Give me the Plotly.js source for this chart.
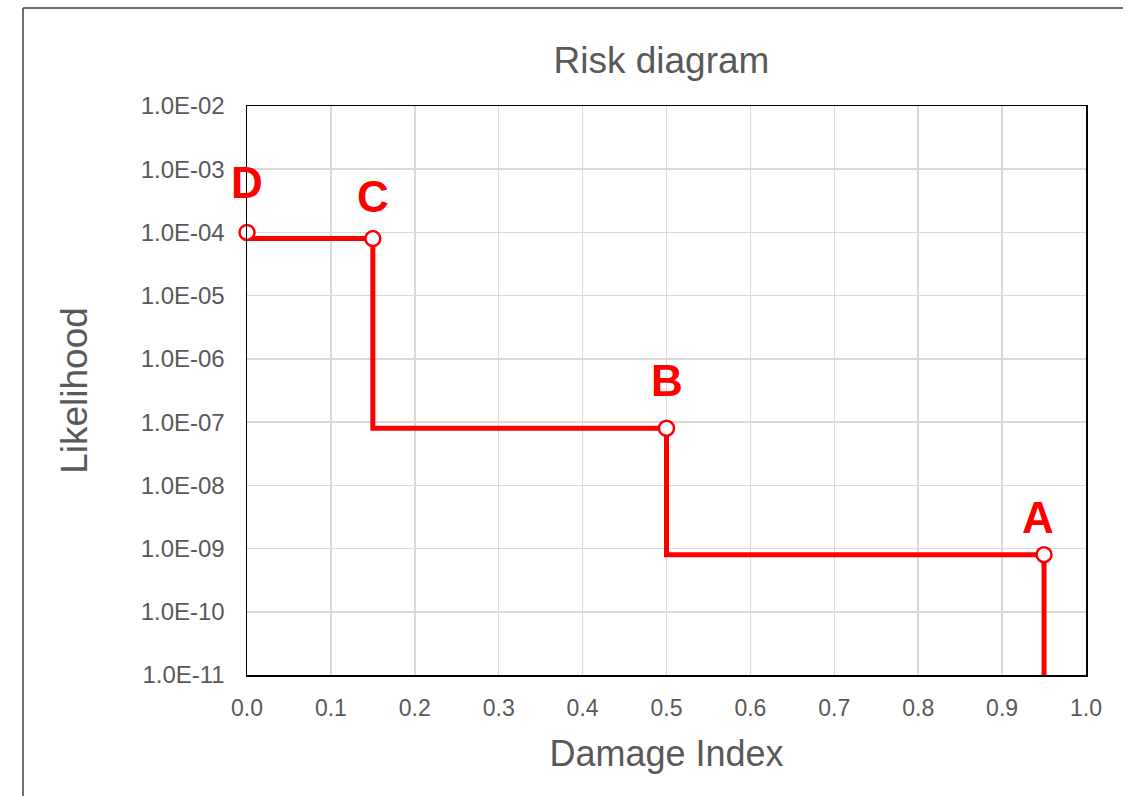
<!DOCTYPE html>
<html>
<head>
<meta charset="utf-8">
<script src="https://cdn.plot.ly/plotly-3.0.1.min.js"></script>
<style>
  html, body { margin: 0; padding: 0; background: #fff; }
  #chart { width: 1125px; height: 796px; }
</style>
</head>
<body>
<div id="chart"></div>
<script>
// ---- data ----
const stepDamage = [0, 0.15, 0.5, 0.95];
const stepLikelihood = [8e-5, 8e-8, 8e-10, 1e-11];

const pointLabels = ['A', 'B', 'C', 'D'];
const pointDamage = [0.95, 0.5, 0.15, 0];
const pointLikelihood = [8e-10, 8e-8, 8e-5, 1e-4];

const yTickValues = [1e-11, 1e-10, 1e-9, 1e-8, 1e-7, 1e-6, 1e-5, 1e-4, 1e-3, 1e-2];
const yTickLabels = ['1.0E-11', '1.0E-10', '1.0E-09', '1.0E-08', '1.0E-07',
                     '1.0E-06', '1.0E-05', '1.0E-04', '1.0E-03', '1.0E-02'];

// ---- styling ----
const RED = '#ff0000';
const TXT = '#595959';
const FONT = 'Liberation Sans, Arial, sans-serif';
// label placement tweaks (px), per label, A..D
const labelShiftY = [37, 48, 42, 50];
const labelShiftX = [-6, 0, 0, 0];

const traces = [
  {
    type: 'scatter',
    mode: 'lines',
    x: stepDamage,
    y: stepLikelihood,
    line: { color: RED, width: 5, shape: 'hv' },
    hoverinfo: 'skip',
    showlegend: false
  },
  {
    type: 'scatter',
    mode: 'markers',
    x: pointDamage,
    y: pointLikelihood,
    text: pointLabels,
    marker: { size: 15, color: '#ffffff', line: { color: RED, width: 2.5 } },
    showlegend: false,
    cliponaxis: false
  }
];

const annotations = pointLabels.map((t, i) => ({
  x: pointDamage[i],
  y: Math.log10(pointLikelihood[i]),
  xref: 'x', yref: 'y',
  text: '<b>' + t + '</b>',
  showarrow: false,
  xanchor: 'center', yanchor: 'middle',
  xshift: labelShiftX[i],
  yshift: labelShiftY[i],
  font: { family: FONT, size: 44, color: RED }
}));

const layout = {
  width: 1125,
  height: 796,
  paper_bgcolor: '#ffffff',
  plot_bgcolor: '#ffffff',
  margin: { l: 247, r: 39, t: 106, b: 121, pad: 0 },
  font: { family: FONT, color: TXT },
  title: {
    text: 'Risk diagram',
    font: { family: FONT, size: 37, color: TXT },
    xref: 'paper', x: 0.494, xanchor: 'center',
    yref: 'container', y: 1 - 60 / 796, yanchor: 'middle'
  },
  xaxis: {
    range: [0, 1],
    tickmode: 'linear', tick0: 0, dtick: 0.1,
    tickformat: '.1f',
    showgrid: true, gridcolor: '#d9d9d9', gridwidth: 1.5,
    zeroline: false,
    showline: true, linecolor: '#000000', linewidth: 1.5, mirror: true,
    ticks: '',
    ticklabelstandoff: 12,
    tickfont: { family: FONT, size: 23, color: TXT },
    title: { text: 'Damage Index', font: { family: FONT, size: 36, color: TXT }, standoff: 20 }
  },
  yaxis: {
    type: 'log',
    range: [-11, -2],
    tickmode: 'array',
    tickvals: yTickValues,
    ticktext: yTickLabels,
    showgrid: true, gridcolor: '#d9d9d9', gridwidth: 1.5,
    zeroline: false,
    showline: true, linecolor: '#000000', linewidth: 1.5, mirror: true,
    ticks: '',
    ticklabelstandoff: 16,
    tickfont: { family: FONT, size: 24, color: TXT },
    title: { text: 'Likelihood', font: { family: FONT, size: 37, color: TXT }, standoff: 41 }
  },
  annotations: annotations,
  shapes: [
    { type: 'line', xref: 'paper', yref: 'paper',
      x0: (23 - 247) / 839, x1: (1123 - 247) / 839,
      y0: 1 + (106 - 8) / 569, y1: 1 + (106 - 8) / 569,
      line: { color: '#404040', width: 1.5 } },
    { type: 'line', xref: 'paper', yref: 'paper',
      x0: (23 - 247) / 839, x1: (23 - 247) / 839,
      y0: 1 + (106 - 8) / 569, y1: -0.5,
      line: { color: '#404040', width: 1.5 } }
  ],
  hovermode: false
};

Plotly.newPlot('chart', traces, layout, { displayModeBar: false, staticPlot: true });
</script>
</body>
</html>
